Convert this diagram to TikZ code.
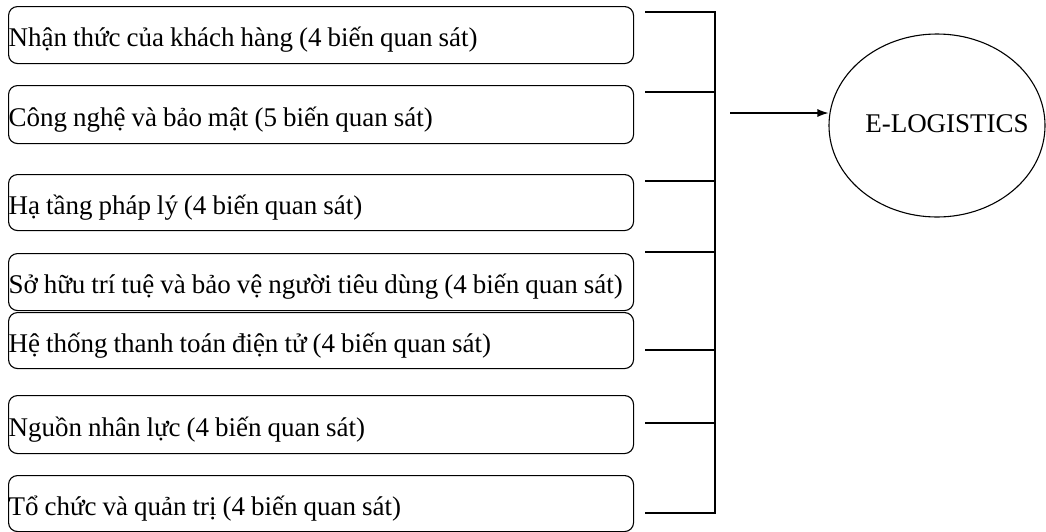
\documentclass[tikz,border=0pt]{standalone}
\usepackage{fontspec}
\setmainfont{Liberation Serif}
\usetikzlibrary{arrows.meta,shapes.geometric}
\newcommand\tightspaces{\spaceskip=6pt plus 1pt\relax}
\begin{document}
\begin{tikzpicture}[x=1pt,y=-1pt,
  factor/.style={draw,line width=1.1pt,rounded corners=9pt,minimum width=625pt,
    text width=625pt,align=left,inner sep=0pt,anchor=north west,
    text height=23pt,text depth=0pt,
    font=\fontsize{27}{30}\selectfont,execute at begin node=\tightspaces},
  link/.style={line width=1.1pt},
  result/.style={draw,line width=1.1pt,ellipse,minimum width=216pt,minimum height=183pt,inner sep=0pt}]
\useasboundingbox (0,0) rectangle (1046,531);
\node[factor,minimum height=57pt] (b1) at (8,6) {Nhận thức của khách hàng (4 biến quan sát)};
\node[factor,minimum height=58pt] (b2) at (8,85) {Công nghệ và bảo mật (5 biến quan sát)};
\node[factor,minimum height=56pt] (b3) at (8,174) {Hạ tầng pháp lý (4 biến quan sát)};
\node[factor,minimum height=57pt] (b4) at (8,253) {Sở hữu trí tuệ và bảo vệ người tiêu dùng (4 biến quan sát)};
\node[factor,minimum height=56pt] (b5) at (8,312) {Hệ thống thanh toán điện tử (4 biến quan sát)};
\node[factor,minimum height=58pt] (b6) at (8,395) {Nguồn nhân lực (4 biến quan sát)};
\node[factor,minimum height=56pt] (b7) at (8,475) {Tổ chức và quản trị (4 biến quan sát)};
\node[result] (e) at (937,125.5) {};
\node[font=\fontsize{27}{30}\selectfont,inner sep=0pt] (et) at (947,124) {E-LOGISTICS};
\coordinate (s1) at (645,12);
\coordinate (s2) at (645,92);
\coordinate (s3) at (645,181);
\coordinate (s4) at (645,252);
\coordinate (s5) at (645,350);
\coordinate (s6) at (645,423);
\coordinate (s7) at (645,513);
\coordinate (t1) at (715,12);
\coordinate (t7) at (715,513);
\coordinate (a0) at (730,113);
\draw[link] (s1) -- (t1) -- (t7) -- (s7);
\foreach \i in {2,...,6} {\draw[link] (s\i) -- (t1 |- s\i);}
\draw[link,-{Latex[length=11pt,width=8pt]}] (a0) -- (e.west |- a0);
\end{tikzpicture}
\end{document}
